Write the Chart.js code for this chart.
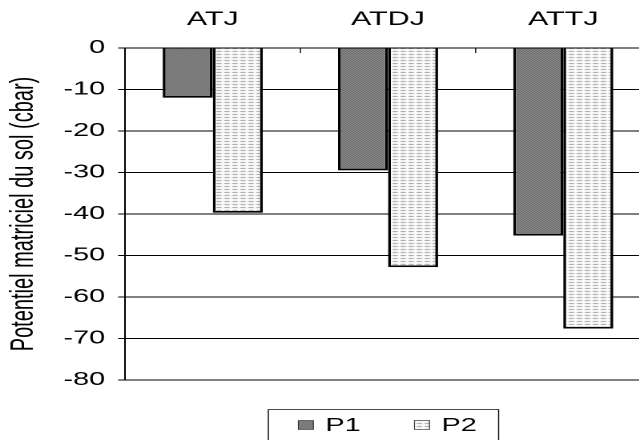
<!DOCTYPE html>
<html>
<head>
<meta charset="utf-8">
<title>Potentiel matriciel du sol</title>
<script src="https://cdn.jsdelivr.net/npm/chart.js@4"></script>
<style>
    html, body {
        margin: 0;
        padding: 0;
        background: #fff;
        overflow: hidden;
        width: 639px;
        height: 440px;
    }
    /* the source picture is stretched sideways, so we draw narrow and scale in x */
    #wrap {
        position: absolute;
        left: 0;
        top: 0;
        height: 440px;
        transform-origin: 0 0;
    }
</style>
</head>
<body>
<div id="wrap"><canvas id="chart"></canvas></div>
<script>
const categories = ['ATJ', 'ATDJ', 'ATTJ'];
const seriesNames = ['P1', 'P2'];
const p1Values = [-12, -29.5, -45.2];
const p2Values = [-39.7, -52.8, -67.6];
const yMin = -80;
const yMax = 0;
const yStep = 10;

const K = 1.6;          // horizontal stretch of the picture
const FULL_W = 662;     // plot runs a little past the right edge
const FONT = '"Liberation Sans", Arial, sans-serif';

const wrap = document.getElementById('wrap');
wrap.style.width = (FULL_W / K) + 'px';
wrap.style.transform = 'scaleX(' + K + ')';

function sx(x) { return x / K; }

function makePattern(w, h, paint) {
    const c = document.createElement('canvas');
    c.width = w;
    c.height = h;
    const g = c.getContext('2d');
    g.fillStyle = '#fff';
    g.fillRect(0, 0, w, h);
    paint(g);
    return g.createPattern(c, 'repeat');
}

// dark speckled grey
const p1Fill = makePattern(2, 2, g => {
    g.fillStyle = '#555';
    g.fillRect(0, 0, 1, 1);
    g.fillRect(1, 1, 1, 1);
    g.fillStyle = '#a2a2a2';
    g.fillRect(1, 0, 1, 1);
    g.fillRect(0, 1, 1, 1);
});

// white with rows of small grey dashes
const p2Fill = makePattern(5, 3, g => {
    g.fillStyle = '#999';
    g.fillRect(0, 0, 3, 1);
    g.fillStyle = '#d4d4d4';
    g.fillRect(3, 0, 1, 1);
});

// little ticks pointing down from the top axis, between the groups
const innerTicks = {
    id: 'innerTicks',
    afterDatasetsDraw(chart) {
        const xs = chart.scales.x;
        const ctx = chart.ctx;
        const half = (xs.getPixelForValue(1) - xs.getPixelForValue(0)) / 2;
        ctx.save();
        ctx.strokeStyle = '#000';
        ctx.lineWidth = 0.7;
        for (let i = 1; i <= categories.length; i++) {
            const x = xs.getPixelForValue(i) - half;
            ctx.beginPath();
            ctx.moveTo(x, chart.chartArea.top);
            ctx.lineTo(x, chart.chartArea.top + 5);
            ctx.stroke();
        }
        ctx.restore();
    }
};

// boxed legend under the plot
const boxLegend = {
    id: 'boxLegend',
    afterDraw(chart) {
        const ctx = chart.ctx;
        const fills = [p1Fill, p2Fill];
        const swatchX = [298, 414];
        const textX = [325, 441];
        ctx.save();
        ctx.strokeStyle = '#000';
        ctx.lineWidth = 0.7;
        ctx.strokeRect(sx(268), 409.5, sx(230), 60);
        ctx.font = '18px ' + FONT;
        ctx.textBaseline = 'alphabetic';
        seriesNames.forEach((name, i) => {
            ctx.fillStyle = fills[i];
            ctx.fillRect(sx(swatchX[i]), 420.5, sx(15), 9);
            ctx.strokeStyle = '#333';
            ctx.lineWidth = 0.6;
            ctx.strokeRect(sx(swatchX[i]), 420.5, sx(15), 9);
            ctx.fillStyle = '#000';
            ctx.fillText(name, sx(textX[i]), 431);
        });
        ctx.restore();
    }
};

new Chart(document.getElementById('chart'), {
    type: 'bar',
    data: {
        labels: categories,
        datasets: [
            {
                label: seriesNames[0],
                data: p1Values,
                backgroundColor: p1Fill,
                borderColor: '#000',
                borderWidth: 1.8
            },
            {
                label: seriesNames[1],
                data: p2Values,
                backgroundColor: p2Fill,
                borderColor: '#000',
                borderWidth: 1.8
            }
        ]
    },
    options: {
        responsive: true,
        maintainAspectRatio: false,
        animation: false,
        devicePixelRatio: 2,
        categoryPercentage: 100 / 175,
        barPercentage: 1,
        layout: {
            padding: { left: 0, right: sx(FULL_W - 650), top: 0, bottom: 60 }
        },
        plugins: {
            legend: { display: false },
            tooltip: { enabled: false }
        },
        scales: {
            x: {
                position: 'top',
                grid: { display: false, drawTicks: false },
                border: { display: true, color: '#000', width: 1 },
                ticks: {
                    color: '#000',
                    padding: 17,
                    font: { family: FONT, size: 19 }
                },
                afterFit(scale) { scale.height = 48; }
            },
            y: {
                min: yMin,
                max: yMax,
                grid: {
                    color: '#000',
                    lineWidth: 1,
                    tickLength: sx(7)
                },
                border: { display: true, color: '#000', width: 1 },
                ticks: {
                    stepSize: yStep,
                    color: '#000',
                    padding: sx(13),
                    font: { family: FONT, size: 18 }
                },
                title: {
                    display: true,
                    text: 'Potentiel matriciel du sol (cbar)',
                    color: '#000',
                    padding: { top: 3, bottom: 0 },
                    font: { family: FONT, size: 20 }
                },
                afterFit(scale) { scale.width = sx(125); }
            }
        }
    },
    plugins: [innerTicks, boxLegend]
});
</script>
</body>
</html>
